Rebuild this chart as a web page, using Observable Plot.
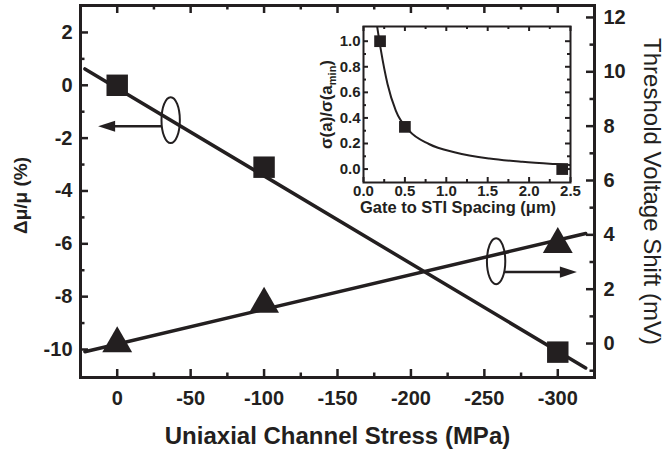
<!DOCTYPE html>
<html><head><meta charset="utf-8">
<script src="https://cdn.jsdelivr.net/npm/d3@7"></script>
<script src="https://cdn.jsdelivr.net/npm/@observablehq/plot@0.6"></script>
<style>
body{margin:0;background:#fff;}
#wrap{position:relative;width:666px;height:451px;overflow:hidden;}
#main{position:absolute;left:0;top:0;}
#inset{position:absolute;left:290px;top:18px;}
</style></head><body><div id="wrap"><div id="main"></div><div id="inset"></div></div>
<script>
// ---------- data ----------
const stress = [0, -100, -300];                 // MPa
const mobilityShift = [0, -3.1, -10.1];          // Δμ/μ (%)
const vtShift = [0, 1.45, 3.65];                 // mV (right axis)
const mobilityFitX = [22, -319];
const mobilityFitY = [0.62, -10.7];
const vtFitX = [22, -319];
const vtFitY = [-0.3, 4.05];

const xMajor = [0, -50, -100, -150, -200, -250, -300];
const xMinor = [-25, -75, -125, -175, -225, -275];
const leftMajor = [2, 0, -2, -4, -6, -8, -10];
const leftMinor = [1, -1, -3, -5, -7, -9];
const rightMajor = [12, 10, 8, 6, 4, 2, 0];
const rightMinor = [11, 9, 7, 5, 3, 1, -1];

// annotation: ellipses and arrows (x in MPa, y on own axis)
const ellipseMu = {x: -36.4, y: -1.32};
const arrowMu = {x1: -30, x2: 13, y: -1.55};
const ellipseVt = {x: -258, y: 3.03};
const arrowVt = {x1: -264, x2: -313, y: 2.63};

// inset
const spacing = [0.2, 0.5, 2.4];
const sigmaRatio = [1.0, 0.33, 0.0];
const curveX = [0.165, 0.21, 0.29, 0.39, 0.55, 0.79, 1.11, 1.52, 1.92, 2.32, 2.5];
const curveY = [1.115, 0.93, 0.666, 0.457, 0.30, 0.196, 0.13, 0.083, 0.057, 0.039, 0.032];
const insetXMajor = [0, 0.5, 1.0, 1.5, 2.0, 2.5];
const insetXMinor = [0.25, 0.75, 1.25, 1.75, 2.25];
const insetYMajor = [0, 0.2, 0.4, 0.6, 0.8, 1.0];
const insetYMinor = [0.1, 0.3, 0.5, 0.7, 0.9];

// ---------- layout ----------
const ink = "#231f20";
const font = "'Liberation Sans', Arial, Helvetica, sans-serif";
const W = 666, H = 451, mL = 80, mR = 72, mT = 5, mB = 74;
const pw = W - mL - mR, ph = H - mT - mB;
const leftDomain = [-11.06, 3.02], rightDomain = [-1.25, 12.44];
const toLeft = v => leftDomain[0] + (v - rightDomain[0]) * (leftDomain[1] - leftDomain[0]) / (rightDomain[1] - rightDomain[0]);
const fromLeft = u => rightDomain[0] + (u - leftDomain[0]) * (rightDomain[1] - rightDomain[0]) / (leftDomain[1] - leftDomain[0]);

const ellipseSymbol = {draw(ctx, size) {
  const ry = Math.sqrt(size) / 2, rx = ry * 0.4, k = 0.5523;
  ctx.moveTo(rx, 0);
  ctx.bezierCurveTo(rx, k * ry, k * rx, ry, 0, ry);
  ctx.bezierCurveTo(-k * rx, ry, -rx, k * ry, -rx, 0);
  ctx.bezierCurveTo(-rx, -k * ry, -k * rx, -ry, 0, -ry);
  ctx.bezierCurveTo(k * rx, -ry, rx, -k * ry, rx, 0);
  ctx.closePath();
}};
const headSymbol = {draw(ctx, size) {
  const l = Math.sqrt(size), w = l * 0.33;
  ctx.moveTo(0, 0); ctx.lineTo(-l, -w); ctx.lineTo(-l, w); ctx.closePath();
}};

const pts = stress.map((s, i) => ({s, mu: mobilityShift[i], vt: toLeft(vtShift[i])}));
const muLine = mobilityFitX.map((x, i) => ({x, y: mobilityFitY[i]}));
const vtLine = vtFitX.map((x, i) => ({x, y: toLeft(vtFitY[i])}));

const main = Plot.plot({
  width: W, height: H, marginLeft: mL, marginRight: mR, marginTop: mT, marginBottom: mB,
  style: {fontFamily: font, color: ink, background: "transparent"},
  x: {domain: [25, -325]},
  y: {domain: leftDomain},
  marks: [
    Plot.line(muLine, {x: "x", y: "y", stroke: ink, strokeWidth: 3.5}),
    Plot.line(vtLine, {x: "x", y: "y", stroke: ink, strokeWidth: 3.5}),
    Plot.dot(pts, {x: "s", y: "mu", symbol: "square", r: 12.1, fill: ink}),
    Plot.dot(pts, {x: "s", y: "vt", symbol: "triangle", r: 11.1, fill: ink}),
    // annotations
    Plot.dot([ellipseMu], {x: "x", y: "y", symbol: ellipseSymbol, r: 25.9, stroke: ink, strokeWidth: 2, fill: "none"}),
    Plot.link([arrowMu], {x1: "x1", x2: d => d.x2 - 10, y1: "y", y2: "y", stroke: ink, strokeWidth: 2.5}),
    Plot.dot([arrowMu], {x: "x2", y: "y", symbol: headSymbol, r: 9.6, rotate: 180, fill: ink}),
    Plot.dot([ellipseVt], {x: "x", y: d => toLeft(d.y), symbol: ellipseSymbol, r: 25.9, stroke: ink, strokeWidth: 2, fill: "none"}),
    Plot.link([arrowVt], {x1: "x1", x2: d => d.x2 + 10, y1: d => toLeft(d.y), y2: d => toLeft(d.y), stroke: ink, strokeWidth: 2.5}),
    Plot.dot([arrowVt], {x: "x2", y: d => toLeft(d.y), symbol: headSymbol, r: 9.6, fill: ink}),
    // ticks (inward)
    Plot.tickY(leftMajor, {y: d => d, insetRight: pw - 8, stroke: ink, strokeWidth: 2.5}),
    Plot.tickY(leftMinor, {y: d => d, insetRight: pw - 4.5, stroke: ink, strokeWidth: 2.5}),
    Plot.tickY(rightMajor.map(toLeft), {y: d => d, insetLeft: pw - 8, stroke: ink, strokeWidth: 2.5}),
    Plot.tickY(rightMinor.map(toLeft), {y: d => d, insetLeft: pw - 4.5, stroke: ink, strokeWidth: 2.5}),
    Plot.tickX(xMajor, {x: d => d, insetTop: ph - 8, stroke: ink, strokeWidth: 2.5}),
    Plot.tickX(xMinor, {x: d => d, insetTop: ph - 4.5, stroke: ink, strokeWidth: 2.5}),
    Plot.tickX(xMajor, {x: d => d, insetBottom: ph - 8, stroke: ink, strokeWidth: 2.5}),
    Plot.tickX(xMinor, {x: d => d, insetBottom: ph - 4.5, stroke: ink, strokeWidth: 2.5}),
    Plot.frame({stroke: ink, strokeWidth: 3}),
    // axes labels
    Plot.axisX(xMajor, {anchor: "bottom", tickSize: 0, tickPadding: 13, tickFormat: d => String(d), fontSize: 20, fontWeight: "bold", fill: ink, label: null}),
    Plot.axisY(leftMajor, {anchor: "left", tickSize: 0, tickPadding: 8, tickFormat: d => String(d), fontSize: 20, fontWeight: "bold", fill: ink, label: null}),
    Plot.axisY(rightMajor.map(toLeft), {anchor: "right", tickSize: 0, tickPadding: 9, tickFormat: d => String(Math.round(fromLeft(d))), fontSize: 20, fontWeight: "bold", fill: ink, label: null}),
    // titles
    Plot.text(["Uniaxial Channel Stress (MPa)"], {text: d => d, frameAnchor: "bottom", textAnchor: "middle", lineAnchor: "middle", dy: 59, fontSize: 24, fontWeight: "bold", fill: ink}),
    Plot.text(["Δμ/μ (%)"], {text: d => d, frameAnchor: "left", textAnchor: "middle", lineAnchor: "middle", dx: -60, dy: 4, rotate: -90, fontSize: 19, fontWeight: "bold", fill: ink}),
    Plot.text(["Threshold Voltage Shift (mV)"], {text: d => d, frameAnchor: "right", textAnchor: "middle", lineAnchor: "middle", dx: 57, dy: 0, rotate: 90, fontSize: 24, fill: ink})
  ]
});
document.getElementById("main").appendChild(main);

// ---------- inset ----------
const iw = 300, ih = 210, imL = 73, imR = 20, imT = 8, imB = 46;
const ipw = iw - imL - imR, iph = ih - imT - imB;
const ipts = spacing.map((x, i) => ({x, y: sigmaRatio[i]}));
const icurve = curveX.map((x, i) => ({x, y: curveY[i]}));
const YTITLE = "σ(a)/σ(amin)";
const inset = Plot.plot({
  width: iw, height: ih, marginLeft: imL, marginRight: imR, marginTop: imT, marginBottom: imB,
  style: {fontFamily: font, color: ink, background: "transparent", overflow: "visible"},
  x: {domain: [0, 2.5]},
  y: {domain: [-0.105, 1.115]},
  marks: [
    Plot.line(icurve, {x: "x", y: "y", curve: "monotone-x", stroke: ink, strokeWidth: 2, clip: true}),
    Plot.dot(ipts, {x: "x", y: "y", symbol: "square", r: 6.6, fill: ink}),
    Plot.tickY(insetYMajor, {y: d => d, insetRight: ipw - 5, stroke: ink, strokeWidth: 2}),
    Plot.tickY(insetYMinor, {y: d => d, insetRight: ipw - 3, stroke: ink, strokeWidth: 2}),
    Plot.tickY(insetYMajor, {y: d => d, insetLeft: ipw - 5, stroke: ink, strokeWidth: 2}),
    Plot.tickY(insetYMinor, {y: d => d, insetLeft: ipw - 3, stroke: ink, strokeWidth: 2}),
    Plot.tickX(insetXMajor, {x: d => d, insetTop: iph - 5, stroke: ink, strokeWidth: 2}),
    Plot.tickX(insetXMinor, {x: d => d, insetTop: iph - 3, stroke: ink, strokeWidth: 2}),
    Plot.tickX(insetXMajor, {x: d => d, insetBottom: iph - 5, stroke: ink, strokeWidth: 2}),
    Plot.tickX(insetXMinor, {x: d => d, insetBottom: iph - 3, stroke: ink, strokeWidth: 2}),
    Plot.frame({stroke: ink, strokeWidth: 2}),
    Plot.axisX(insetXMajor, {anchor: "bottom", tickSize: 0, tickPadding: 3, tickFormat: d => d.toFixed(1), fontSize: 15, fontWeight: "bold", fill: ink, label: null}),
    Plot.axisY(insetYMajor, {anchor: "left", tickSize: 0, tickPadding: 3, tickFormat: d => d.toFixed(1), fontSize: 15, fontWeight: "bold", fill: ink, label: null}),
    Plot.text(["Gate to STI Spacing (μm)"], {text: d => d, frameAnchor: "bottom", textAnchor: "middle", lineAnchor: "middle", dx: -9, dy: 25, fontSize: 16.5, fontWeight: "bold", fill: ink}),
    Plot.text([YTITLE], {text: d => d, frameAnchor: "left", textAnchor: "middle", lineAnchor: "middle", dx: -37, dy: 0, rotate: -90, fontSize: 17, fontWeight: "bold", fill: ink})
  ]
});
document.getElementById("inset").appendChild(inset);
// subscript "min" in the inset y title
inset.querySelectorAll("text").forEach(t => {
  if (t.textContent === YTITLE) {
    t.textContent = "";
    const ns = "http://www.w3.org/2000/svg";
    const a = document.createElementNS(ns, "tspan"); a.textContent = "σ(a)/σ(a";
    const b = document.createElementNS(ns, "tspan"); b.textContent = "min"; b.setAttribute("font-size", "11"); b.setAttribute("dy", "4");
    const c = document.createElementNS(ns, "tspan"); c.textContent = ")"; c.setAttribute("dy", "-4");
    t.append(a, b, c);
  }
});
</script>
</body></html>
